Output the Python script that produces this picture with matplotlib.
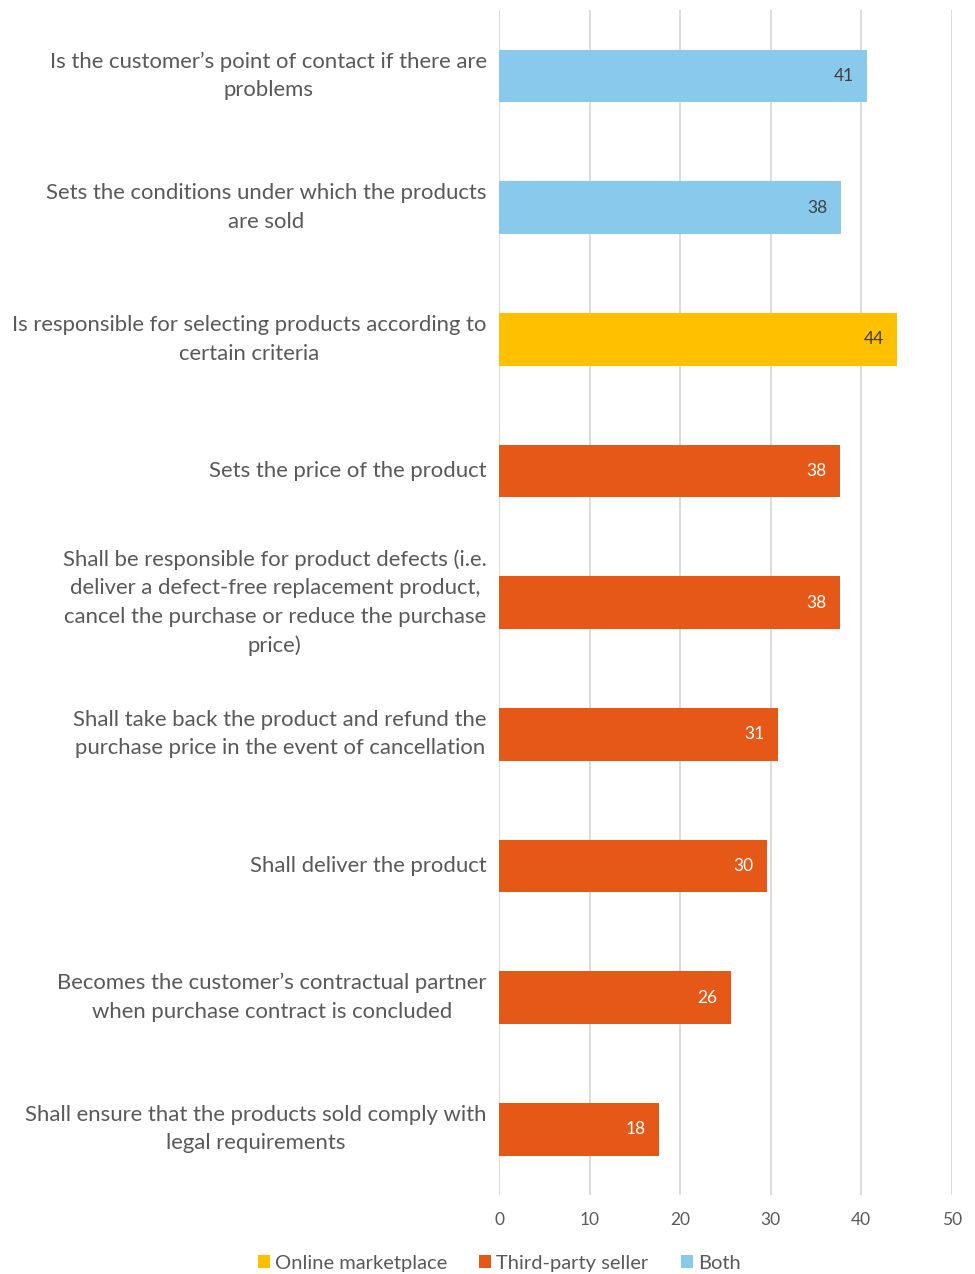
import matplotlib
matplotlib.use("Agg")
import matplotlib.pyplot as plt
from matplotlib.patches import Patch

categories = [
    "Is the customer\u2019s point of contact if there are\nproblems",
    "Sets the conditions under which the products\nare sold",
    "Is responsible for selecting products according to\ncertain criteria",
    "Sets the price of the product",
    "Shall be responsible for product defects (i.e.\ndeliver a defect-free replacement product,\ncancel the purchase or reduce the purchase\nprice)",
    "Shall take back the product and refund the\npurchase price in the event of cancellation",
    "Shall deliver the product",
    "Becomes the customer\u2019s contractual partner\nwhen purchase contract is concluded",
    "Shall ensure that the products sold comply with\nlegal requirements",
]
values = [40.7, 37.8, 44.0, 37.7, 37.7, 30.8, 29.6, 25.6, 17.7]
groups = ["Both", "Both", "Online marketplace", "Third-party seller", "Third-party seller",
          "Third-party seller", "Third-party seller", "Third-party seller", "Third-party seller"]
legend_order = ["Online marketplace", "Third-party seller", "Both"]
x_ticks = [0, 10, 20, 30, 40, 50]

colors = {"Online marketplace": "#FFC000", "Third-party seller": "#E65817", "Both": "#89CAEC"}
label_colors = {"Online marketplace": "#404040", "Third-party seller": "#FFFFFF", "Both": "#404040"}

plt.rcParams['font.family'] = ['Lato', 'DejaVu Sans']
fig = plt.figure(figsize=(9.75, 12.74), dpi=100)
ax = fig.add_axes([0.512, 0.062, 0.464, 0.930])

ypos = list(range(len(categories)))
bars = ax.barh(ypos, values, height=0.4, color=[colors[g] for g in groups], zorder=3)
for b, v, g in zip(bars, values, groups):
    ax.text(v - 1.5, b.get_y() + b.get_height() / 2, f"{round(v):d}", ha='right', va='center',
            fontsize=12.5, color=label_colors[g], zorder=4)

ax.set_ylim(len(categories) - 0.5, -0.5)
ax.set_xlim(0, 50)
ax.set_xticks(x_ticks)
ax.set_xticklabels([str(t) for t in x_ticks], fontsize=12.5, color="#595959")
ax.set_yticks(ypos)
ax.set_yticklabels(categories, fontsize=15.9, color="#595959", linespacing=1.53)
for t in ax.get_yticklabels():
    t.set_multialignment('center')
    t.set_verticalalignment('center')
ax.tick_params(axis='y', length=0, pad=9)
ax.tick_params(axis='x', length=0, pad=12)
ax.grid(axis='x', color="#D9D9D9", linewidth=1.3, zorder=0)
for s in ax.spines.values():
    s.set_visible(False)

handles = [Patch(facecolor=colors[k], label=k) for k in legend_order]
fig.legend(handles=handles, loc='center', bbox_to_anchor=(0.512, 0.0085), ncol=3, frameon=False,
           fontsize=14.5, labelcolor="#595959", handlelength=0.6, handleheight=0.6,
           handletextpad=0.25, columnspacing=1.6)

fig.savefig("out.png", dpi=100)
